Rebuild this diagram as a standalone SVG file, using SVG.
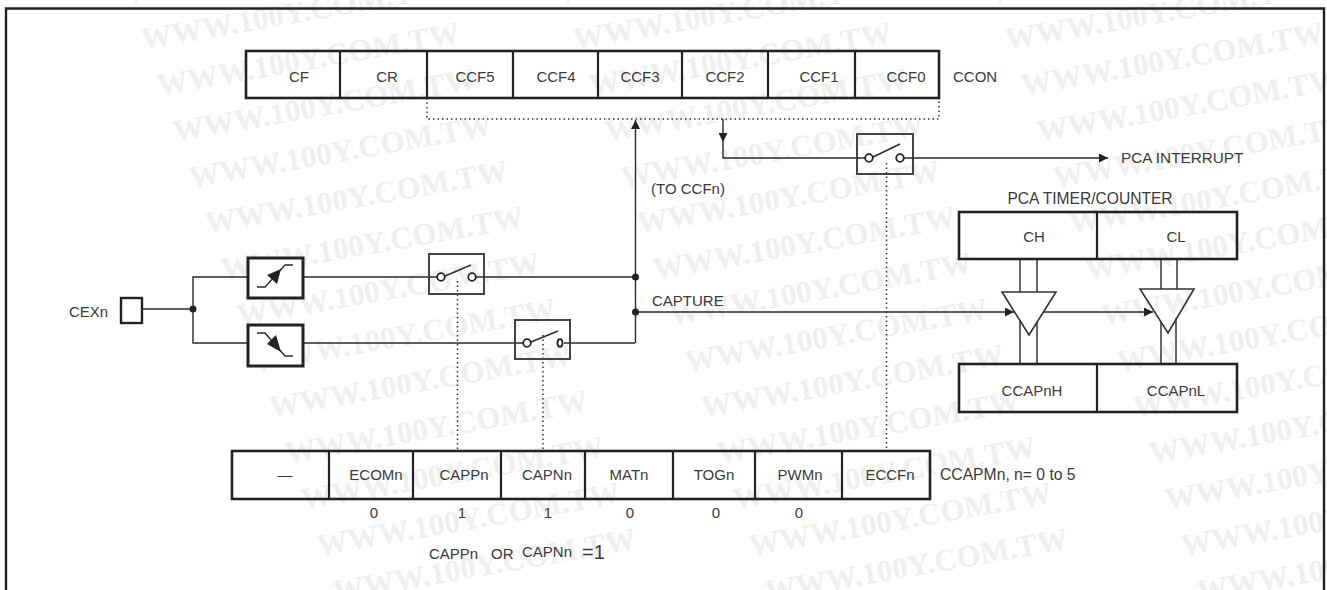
<svg xmlns="http://www.w3.org/2000/svg" width="1327" height="590" viewBox="0 0 1327 590">
<style>
text{font-family:"Liberation Sans",Arial,sans-serif;font-size:15px;fill:#3a3a3a}
.m{text-anchor:middle}
.wm{font-family:"Liberation Serif","Times New Roman",serif;font-size:31px;font-weight:bold;fill:#efefef}
.reg{fill:none;stroke:#222;stroke-width:2.600}
.cell{stroke:#222;stroke-width:2.200;fill:none}
.ln{fill:none;stroke:#2a2a2a;stroke-width:1.400}
.dot{fill:none;stroke:#333;stroke-width:1.500;stroke-dasharray:1.500 3}
.sw{fill:none;stroke:#444;stroke-width:2}
.c{fill:#fff;stroke:#222;stroke-width:1.800}
.edge{fill:#fff;stroke:#222;stroke-width:3}
.bl{fill:#222}
</style>
<defs>
<text id="wm" class="wm" transform="rotate(-10)">WWW.100Y.COM.TW</text>
<g id="wmCol">
<use href="#wm" x="-16" y="-46"/><use href="#wm" x="0" y="0"/><use href="#wm" x="16" y="46"/><use href="#wm" x="32" y="92"/><use href="#wm" x="48" y="138"/><use href="#wm" x="64" y="184"/><use href="#wm" x="80" y="230"/><use href="#wm" x="96" y="276"/><use href="#wm" x="112" y="322"/><use href="#wm" x="128" y="368"/><use href="#wm" x="144" y="414"/><use href="#wm" x="160" y="460"/><use href="#wm" x="176" y="506"/><use href="#wm" x="192" y="552"/>
</g>
<marker id="ah" viewBox="0 0 10 10" refX="10" refY="5" markerWidth="10" markerHeight="9" markerUnits="userSpaceOnUse" orient="auto"><path d="M0 0L10 5L0 10z" fill="#222"/></marker>
</defs>
<g id="watermark">
<use href="#wmCol" x="143" y="50"/><use href="#wmCol" x="575" y="50"/><use href="#wmCol" x="1007" y="50"/>
</g>
<path id="frame" d="M6 592V8.500H1324V592" fill="none" stroke="#222" stroke-width="2.400"/>

<g id="connectors">
<path class="ln" d="M142 309H193M247 277H193V343H247"/>
<path class="ln" d="M303 277H429M484 277H635M303 343H515M570 343H635"/>
<path class="ln" d="M635.500 343V120" marker-end="url(#ah)"/>
<path class="ln" d="M635.500 312H1014" marker-end="url(#ah)"/>
<path class="ln" d="M1043 312H1153" marker-end="url(#ah)"/>
<path class="ln" d="M723 119V142" marker-end="url(#ah)"/>
<path class="ln" d="M723 142V158H857"/>
<path class="ln" d="M913 158H1108" marker-end="url(#ah)"/>
<path class="dot" d="M427 98V119H939V98"/>
<path class="dot" d="M457.500 281V451M543 335V451M886.500 163V451"/>
<path class="ln" d="M1020 259V292M1037 259V292M1020 321V364M1037 322V364M1161 259V289M1177 259V289M1161 322V364M1176 318V364"/>
<circle class="bl" cx="193" cy="309" r="3.500"/>
<circle class="bl" cx="635.500" cy="277" r="3.500"/>
<circle class="bl" cx="635.500" cy="312" r="3.500"/>
</g>

<g id="ccon">
<rect class="reg" x="246" y="51" width="693" height="47"/>
<path class="cell" d="M340 51V98M427 51V98M513 51V98M598 51V98M682 51V98M768 51V98M855 51V98"/>
<text class="m" x="299" y="82">CF</text><text class="m" x="387" y="82">CR</text><text class="m" x="475" y="82">CCF5</text><text class="m" x="556" y="82">CCF4</text><text class="m" x="640" y="82">CCF3</text><text class="m" x="725" y="82">CCF2</text><text class="m" x="819" y="82">CCF1</text><text class="m" x="906" y="82">CCF0</text><text x="953" y="82">CCON</text>
</g>

<g id="cexn"><text x="69" y="317">CEXn</text><rect class="edge" x="121" y="298" width="21" height="25" style="stroke-width:2.400"/></g>

<g id="rise"><rect class="edge" x="248" y="258" width="55" height="40"/><path class="ln" d="M257 287H265L285 265H293"/><path class="bl" d="M281 269L277 284L267 275z"/></g>
<g id="fall"><rect class="edge" x="248" y="325" width="55" height="41"/><path class="ln" d="M257 333H265L285 356H293"/><path class="bl" d="M281 352L267 344L276 335z"/></g>

<g id="switch1"><rect class="sw" x="429" y="254" width="55" height="40"/><path class="ln" d="M429 277H437M445 276L471 265M476 277H484"/><circle class="c" cx="441" cy="277" r="3.800"/><circle class="c" cx="472" cy="277" r="3.800"/></g>
<g id="switch2"><rect class="sw" x="515" y="320" width="55" height="39"/><path class="ln" d="M515 343H523M531 342L558 331M564 343H570"/><circle class="c" cx="527" cy="343" r="3.800"/><ellipse class="c" cx="560" cy="343" rx="2.500" ry="3.800"/></g>
<g id="switch3"><rect class="sw" x="857" y="134" width="56" height="40"/><path class="ln" d="M857 158H865M873 157L900 144M904 158H913"/><circle class="c" cx="869" cy="158" r="3.800"/><circle class="c" cx="900" cy="158" r="3.800"/></g>

<text id="interrupt" x="1121" y="163" style="font-size:15.300px">PCA INTERRUPT</text>
<text id="toccfn" x="651" y="194">(TO CCFn)</text>
<text id="capture" x="652" y="306">CAPTURE</text>

<g id="timer">
<text class="m" x="1090" y="204" style="font-size:15.600px">PCA TIMER/COUNTER</text>
<rect class="reg" x="959" y="212" width="278" height="47"/><path class="cell" d="M1097 212V259"/>
<text class="m" x="1034" y="242">CH</text><text class="m" x="1176" y="242">CL</text>
</g>
<g id="buffer1"><path d="M1002 292H1056L1029 335z" fill="none" stroke="#333" stroke-width="1.600"/></g>
<g id="buffer2"><path d="M1140 289H1194L1168 333z" fill="none" stroke="#333" stroke-width="1.600"/></g>
<g id="ccap">
<rect class="reg" x="959" y="364" width="278" height="48"/><path class="cell" d="M1097 364V412"/>
<text class="m" x="1032" y="396">CCAPnH</text><text class="m" x="1176" y="396">CCAPnL</text>
</g>

<g id="ccapm">
<rect class="reg" x="232" y="451" width="698" height="48"/>
<path class="cell" d="M329 451V499M413 451V499M501 451V499M585 451V499M673 451V499M755 451V499M842 451V499"/>
<text class="m" x="285" y="480">—</text><text class="m" x="376" y="480">ECOMn</text><text class="m" x="464" y="480">CAPPn</text><text class="m" x="547" y="480">CAPNn</text><text class="m" x="629" y="480">MATn</text><text class="m" x="714" y="480">TOGn</text><text class="m" x="800" y="480">PWMn</text><text class="m" x="890" y="480">ECCFn</text>
<text x="940" y="480" style="font-size:15.700px">CCAPMn, n= 0 to 5</text>
<text class="m" x="374" y="518">0</text><text class="m" x="462" y="518">1</text><text class="m" x="548" y="518">1</text><text class="m" x="630" y="518">0</text><text class="m" x="716" y="518">0</text><text class="m" x="799" y="518">0</text>
<text x="429" y="559">CAPPn</text><text x="491" y="559">OR</text><text x="522" y="557">CAPNn</text><text x="582" y="559" style="font-size:20px">=1</text>
</g>
</svg>
